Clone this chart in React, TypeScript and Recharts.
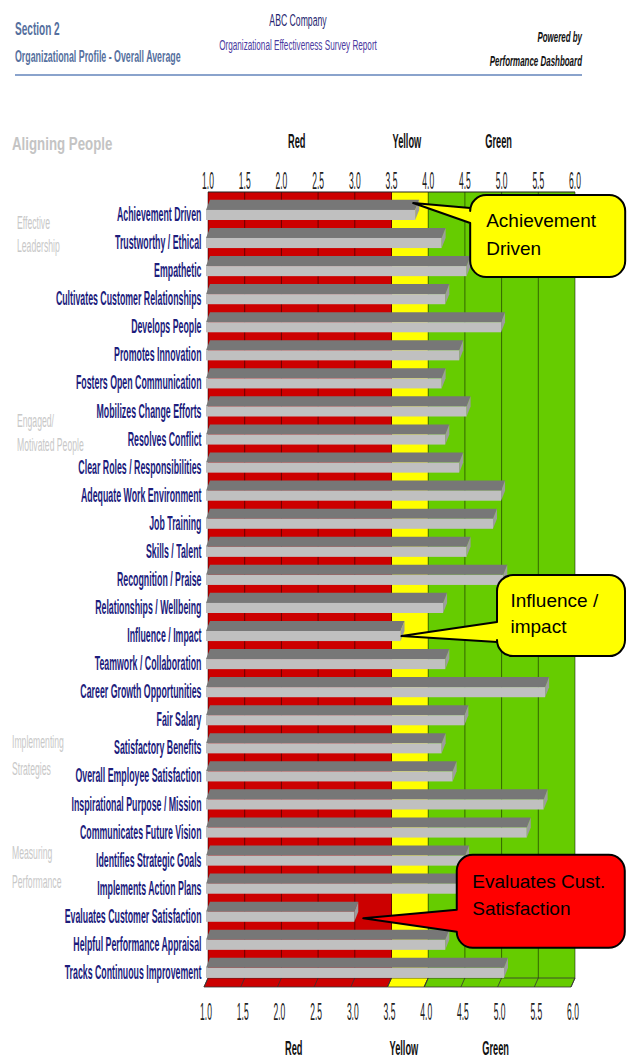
import React from 'react';
import { BarChart, Bar, XAxis, YAxis, CartesianGrid, ReferenceArea, ReferenceDot } from 'recharts';

const categories = [
  'Achievement Driven', 'Trustworthy / Ethical', 'Empathetic', 'Cultivates Customer Relationships',
  'Develops People', 'Promotes Innovation', 'Fosters Open Communication', 'Mobilizes Change Efforts',
  'Resolves Conflict', 'Clear Roles / Responsibilities', 'Adequate Work Environment', 'Job Training',
  'Skills / Talent', 'Recognition / Praise', 'Relationships / Wellbeing', 'Influence / Impact',
  'Teamwork / Collaboration', 'Career Growth Opportunities', 'Fair Salary', 'Satisfactory Benefits',
  'Overall Employee Satisfaction', 'Inspirational Purpose / Mission', 'Communicates Future Vision',
  'Identifies Strategic Goals', 'Implements Action Plans', 'Evaluates Customer Satisfaction',
  'Helpful Performance Appraisal', 'Tracks Continuous Improvement',
];
const scores = [
  3.85, 4.21, 4.55, 4.26, 5.02, 4.45, 4.21, 4.55, 4.26, 4.45, 5.02, 4.91, 4.55, 5.05,
  4.23, 3.65, 4.26, 5.62, 4.52, 4.21, 4.36, 5.6, 5.37, 4.53, 4.6, 3.02, 4.26, 5.06,
];
const xTicks = [1.0, 1.5, 2.0, 2.5, 3.0, 3.5, 4.0, 4.5, 5.0, 5.5, 6.0];
const zoneNames = ['Red', 'Yellow', 'Green'];
const zoneBounds = [1.0, 3.5, 4.0, 6.0];
const zoneColors = ['#cc0000', '#ffff00', '#66cc00'];

const calloutCategories = ['Achievement Driven', 'Influence / Impact', 'Evaluates Customer Satisfaction'];
const calloutTexts = [['Achievement', 'Driven'], ['Influence /', 'impact'], ['Evaluates Cust.', 'Satisfaction']];
const calloutColors = ['#ffff00', '#ffff00', '#ff0000'];

const groupLabels = [['Effective', 'Leadership'], ['Engaged/', 'Motivated People'], ['Implementing', 'Strategies'], ['Measuring', 'Performance']];

// placement of the callout boxes, relative to the bar end they point at
const calloutLayout = [
  { tip: [-4, -3], box: [53, -11, 155, 82], base: [2, 17], text: [69, 21, 49] },
  { tip: [-1, 9], box: [94.5, -52, 128, 81], base: [-5, 15], text: [108, -20, 6] },
  { tip: [7, 10.5], box: [100.5, -53, 168, 93], base: [2, 24], text: [116, -20, 7] },
];
const groupLayout = [
  { x: 17, y: [229, 252] },
  { x: 17, y: [427, 451] },
  { x: 12, y: [748, 775] },
  { x: 12, y: [859, 888] },
];

const FONT = '"Liberation Sans", Arial, Helvetica, sans-serif';

const data = categories.map((name, i) => ({ name, score: scores[i] }));

// one fill per grid interval, taken from the zone it falls in
const stripeColors = xTicks.slice(0, -1).map((t, i) => {
  const mid = (t + xTicks[i + 1]) / 2;
  const z = zoneBounds.findIndex((b, k) => k < zoneBounds.length - 1 && mid >= b && mid < zoneBounds[k + 1]);
  return zoneColors[z];
});

const Squeezed = ({ x, y, sx = 1, anchor = 'start', size, weight = 400, italic = false, fill, children }: any) => (
  <text
    transform={`translate(${x},${y}) scale(${sx},1)`}
    textAnchor={anchor}
    fontSize={size}
    fontWeight={weight}
    fontStyle={italic ? 'italic' : 'normal'}
    fill={fill}
    fontFamily={FONT}
  >
    {children}
  </text>
);

const CategoryTick = ({ x, y, payload }: any) => (
  <Squeezed x={x - 6.5} y={y + 15} sx={0.44} anchor="end" size={20} weight={700} fill="#1c1c7c">
    {payload.value}
  </Squeezed>
);

const TopTick = ({ x, y, payload }: any) => (
  <Squeezed x={x} y={y - 3} sx={0.37} anchor="middle" size={23} fill="#222">
    {Number(payload.value).toFixed(1)}
  </Squeezed>
);

const BottomTick = ({ x, y, payload }: any) => (
  <g>
    <line x1={x} y1={y} x2={x - 4} y2={y + 9} stroke="#333" strokeWidth={0.8} />
    <Squeezed x={x - 2} y={y + 42} sx={0.37} anchor="middle" size={23} fill="#222">
      {Number(payload.value).toFixed(1)}
    </Squeezed>
  </g>
);

const Bar3D = ({ x, y, width, height }: any) => {
  const d = 4;
  const gap = height * 0.28;
  const face = (height - gap) / 2;
  const yTop = y + gap;
  const yMid = yTop + face;
  const yBot = yMid + face;
  const xl = x - d / 2;
  const xr = x + width - d / 2;
  return (
    <g>
      <polygon points={`${xl},${yMid} ${xl + d},${yTop} ${xr + d},${yTop} ${xr},${yMid}`} fill="#777777" />
      <rect x={xl} y={yMid} width={xr - xl} height={face} fill="#c0c0c0" />
      <polygon points={`${xr},${yMid} ${xr + d},${yTop} ${xr + d},${yTop + face} ${xr},${yBot}`} fill="#9c9c9c" />
    </g>
  );
};

const ZoneFloor = ({ x, y, width, height, color }: any) => {
  const yb = y + height;
  return (
    <g>
      <line x1={x} y1={y} x2={x + width} y2={y} stroke="#222" strokeWidth={1.2} />
      <polygon
        points={`${x},${yb} ${x + width},${yb} ${x + width - 4},${yb + 9} ${x - 4},${yb + 9}`}
        fill={color}
        stroke="#333"
        strokeWidth={0.8}
      />
    </g>
  );
};

const ZoneLabel = ({ viewBox, text }: any) => {
  const { x, y, width, height } = viewBox;
  const cx = x + width / 2 - 3;
  return (
    <g>
      <Squeezed x={cx} y={y - 44} sx={0.44} anchor="middle" size={21} weight={700} fill="#111">{text}</Squeezed>
      <Squeezed x={cx - 3} y={y + height + 77} sx={0.44} anchor="middle" size={21} weight={700} fill="#111">{text}</Squeezed>
    </g>
  );
};

const Callout = ({ cx, cy, lines, color, layout }: any) => {
  const tx = cx + layout.tip[0];
  const ty = cy + layout.tip[1];
  const [bx0, by0, bw, bh] = layout.box;
  const bx = cx + bx0;
  const by = cy + by0;
  const r = 16;
  const p1 = cy + layout.base[0];
  const p2 = cy + layout.base[1];
  const path =
    `M${bx + r},${by} H${bx + bw - r} A${r},${r} 0 0 1 ${bx + bw},${by + r} V${by + bh - r} ` +
    `A${r},${r} 0 0 1 ${bx + bw - r},${by + bh} H${bx + r} A${r},${r} 0 0 1 ${bx},${by + bh - r} ` +
    `V${p2} L${tx},${ty} L${bx},${p1} V${by + r} A${r},${r} 0 0 1 ${bx + r},${by} Z`;
  return (
    <g>
      <path d={path} fill={color} stroke="#000" strokeWidth={2} strokeLinejoin="round" />
      {lines.map((t: string, k: number) => (
        <text key={k} x={cx + layout.text[0]} y={cy + layout.text[1 + k]} fontSize={19} fontFamily={FONT} fill="#000">
          {t}
        </text>
      ))}
    </g>
  );
};

const App = () => {
  return (
    <div style={{ position: 'relative', width: 627, height: 1060 }}>
      <style>{'body{margin:0}'}</style>
      <BarChart
        width={627}
        height={1060}
        data={data}
        layout="vertical"
        barCategoryGap={0}
        margin={{ top: 162, right: 52, bottom: 52, left: 8 }}
      >
        <CartesianGrid horizontal={false} verticalFill={stripeColors} fillOpacity={1} stroke="rgba(0,0,0,0.5)" />
        <XAxis
          type="number"
          orientation="top"
          domain={[1, 6]}
          ticks={xTicks}
          interval={0}
          height={30}
          axisLine={false}
          tickLine={false}
          tickSize={0}
          tickMargin={0}
          tick={<TopTick />}
        />
        <XAxis
          xAxisId="bottom"
          type="number"
          orientation="bottom"
          domain={[1, 6]}
          ticks={xTicks}
          interval={0}
          height={30}
          allowDataOverflow
          axisLine={false}
          tickLine={false}
          tickSize={0}
          tickMargin={0}
          tick={<BottomTick />}
        />
        <YAxis
          type="category"
          dataKey="name"
          width={200}
          interval={0}
          axisLine={false}
          tickLine={false}
          tickSize={0}
          tickMargin={0}
          tick={<CategoryTick />}
        />
        {zoneNames.map((name, i) => (
          <ReferenceArea
            key={name}
            x1={zoneBounds[i]}
            x2={zoneBounds[i + 1]}
            fillOpacity={0}
            shape={(p: any) => <ZoneFloor {...p} color={zoneColors[i]} />}
            label={(p: any) => <ZoneLabel {...p} text={name} />}
          />
        ))}
        <Bar dataKey="score" shape={<Bar3D />} isAnimationActive={false} />
        {calloutCategories.map((cat, i) => (
          <ReferenceDot
            key={cat}
            x={scores[categories.indexOf(cat)]}
            y={cat}
            zIndex={1500}
            shape={(p: any) => (
              <Callout {...p} lines={calloutTexts[i]} color={calloutColors[i]} layout={calloutLayout[i]} />
            )}
          />
        ))}
      </BarChart>
      <svg width={627} height={1060} style={{ position: 'absolute', left: 0, top: 0, pointerEvents: 'none' }}>
        <Squeezed x={15} y={35} sx={0.53} size={19} weight={700} fill="#56709e">Section 2</Squeezed>
        <Squeezed x={15} y={62} sx={0.52} size={17} weight={700} fill="#56709e">
          Organizational Profile - Overall Average
        </Squeezed>
        <Squeezed x={298} y={26} sx={0.51} anchor="middle" size={17} fill="#1f1f70">ABC Company</Squeezed>
        <Squeezed x={298} y={50} sx={0.545} anchor="middle" size={15} fill="#4a3aa0">
          Organizational Effectiveness Survey Report
        </Squeezed>
        <Squeezed x={582} y={42} sx={0.53} anchor="end" size={15} weight={700} italic fill="#111">Powered by</Squeezed>
        <Squeezed x={582} y={66} sx={0.53} anchor="end" size={15} weight={700} italic fill="#111">
          Performance Dashboard
        </Squeezed>
        <line x1={15} y1={75} x2={582} y2={75} stroke="#8aa3cc" strokeWidth={2} />
        <Squeezed x={12} y={150} sx={0.7} size={19} weight={700} fill="#c4c4c4">Aligning People</Squeezed>
        {groupLabels.map((lines, i) =>
          lines.map((t, k) => (
            <Squeezed key={`${i}-${k}`} x={groupLayout[i].x} y={groupLayout[i].y[k]} sx={0.48} size={18} fill="#c8c8c8">
              {t}
            </Squeezed>
          ))
        )}
      </svg>
    </div>
  );
};

export default App;
